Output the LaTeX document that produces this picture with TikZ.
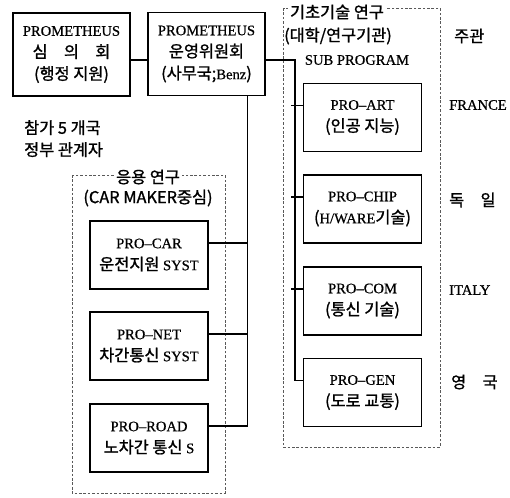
\documentclass[tikz,border=0pt]{standalone}
\usepackage{fontspec}
\setmainfont{Liberation Serif}[FakeBold=0.6]
\newfontfamily\kr{Noto Sans CJK KR}[Scale=1.12, FakeBold=1.2]
\usetikzlibrary{positioning}

\begin{document}
\begin{tikzpicture}[
    x=0.02cm, y=-0.02cm,
    every node/.style={font=\fontsize{8.3}{12.5}\selectfont},
    orgBox/.style={
        rectangle,
        draw,
        line width=0.9pt,
        minimum width=2.34cm,
        minimum height=1.66cm,
        inner sep=1pt,
        align=center
    },
    proBox/.style={
        rectangle,
        draw,
        line width=0.9pt,
        minimum width=2.36cm,
        minimum height=1.36cm,
        inner sep=1pt,
        align=center
    },
    groupBox/.style={draw, line width=0.4pt, dash pattern=on 1.5pt off 1pt, gray!70!black},
    groupTitle/.style={fill=white, inner sep=1pt},
    link/.style={line width=0.8pt}
]
\useasboundingbox (0,0) rectangle (510,497);

% Groupes
\draw[groupBox] (283,8) rectangle (440,447);
\draw[groupBox] (72,175) rectangle (225,493);

% Ligne du haut
\node[orgBox] (council) at (71.5,54.5) {PROMETHEUS\\{\kr 심\quad 의\quad 회}\\{\kr (행정 지원)}};
\node[orgBox] (committee) at (206.5,54) {PROMETHEUS\\{\kr 운영위원회}\\{\kr (사무국;}Benz{\kr )}};
\node[anchor=north west, align=left] (members) at (18,114) {{\kr 참가 5 개국}\\{\kr 정부 관계자}};

% Recherche de base
\node[groupTitle] (basicTitle) at (337,12) {\kr 기초기술 연구};
\node (basicSub) at (338,36) {\kr (대학/연구기관)};
\node (subProgram) at (357,60) {SUB PROGRAM};
\node[anchor=west] (lead) at (448,36) {\kr 주관};

\node[proBox] (art) at (362.5,117.5) {PRO--ART\\{\kr (인공 지능)}};
\node[proBox] (chip) at (362.5,209) {PRO--CHIP\\{\kr (}H/WARE{\kr 기술)}};
\node[proBox] (com) at (362.5,301) {PRO--COM\\{\kr (통신 기술)}};
\node[proBox] (gen) at (362.5,392.5) {PRO--GEN\\{\kr (도로 교통)}};

\node[anchor=west] (france) at (443,105) {FRANCE};
\node[anchor=west] (germany) at (443,200) {\kr 독\quad 일};
\node[anchor=west] (italy) at (443,290) {ITALY};
\node[anchor=west] (uk) at (445,382) {\kr 영\quad 국};

% Recherche appliquee
\node[groupTitle] (appTitle) at (148,177) {\kr 응용 연구};
\node (appSub) at (148,198) {\kr (CAR MAKER중심)};

\node[proBox] (car) at (149,255) {PRO--CAR\\{\kr 운전지원} SYST};
\node[proBox] (net) at (149,346) {PRO--NET\\{\kr 차간통신} SYST};
\node[proBox] (road) at (149,438) {PRO--ROAD\\{\kr 노차간 통신} S};

% Liaisons
\coordinate (rTrunk) at (295,60);
\coordinate (lTrunk) at ([xshift=-0.36cm]committee.south east);

\draw[link] (council.east |- rTrunk) -- (committee.west |- rTrunk);
\draw[link] (committee.east |- rTrunk) -- (rTrunk) |- ([yshift=0.24cm]gen.west);
\foreach \b in {art, chip, com} {
    \coordinate (\b-in) at ([yshift=0.24cm]\b.west);
    \draw[link] (\b-in -| rTrunk) ++(-4,0) -- (\b-in);
}

\draw[link] (lTrunk) |- ([yshift=0.24cm]road.east);
\foreach \b in {car, net} {
    \coordinate (\b-out) at ([yshift=0.24cm]\b.east);
    \draw[link] (\b-out) -- (\b-out -| lTrunk);
}

\end{tikzpicture}
\end{document}
